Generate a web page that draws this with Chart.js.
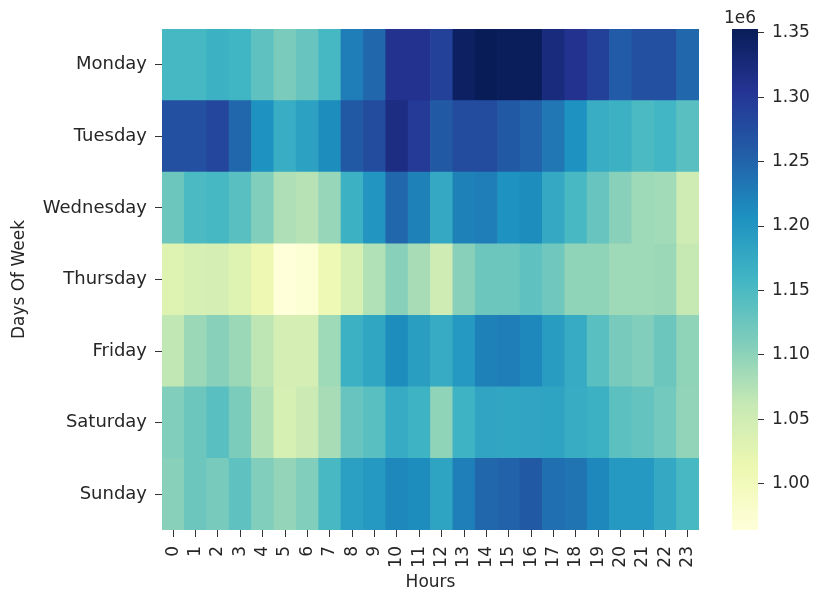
<!DOCTYPE html>
<html>
<head>
<meta charset="utf-8">
<script src="https://cdn.jsdelivr.net/npm/chart.js@4"></script>
<style>
  body { margin: 0; background: #fff; }
  #wrap { position: relative; width: 814px; height: 595px; }
  #heat { position: absolute; left: 0; top: 0; }
  #bar { position: absolute; left: 720px; top: 0; }
</style>
</head>
<body>
<div id="wrap">
  <canvas id="heat" width="720" height="595"></canvas>
  <canvas id="bar" width="94" height="595"></canvas>
</div>
<script>
const hours = ["0","1","2","3","4","5","6","7","8","9","10","11","12","13","14","15","16","17","18","19","20","21","22","23"];
const days = ["Monday","Tuesday","Wednesday","Thursday","Friday","Saturday","Sunday"];

const monday    = [1.155e6,1.155e6,1.165e6,1.160e6,1.135e6,1.114e6,1.129e6,1.155e6,1.226e6,1.247e6,1.309e6,1.309e6,1.289e6,1.345e6,1.353e6,1.350e6,1.350e6,1.324e6,1.309e6,1.289e6,1.259e6,1.272e6,1.272e6,1.247e6];
const tuesday   = [1.272e6,1.272e6,1.282e6,1.247e6,1.206e6,1.170e6,1.186e6,1.211e6,1.262e6,1.277e6,1.319e6,1.299e6,1.262e6,1.277e6,1.277e6,1.262e6,1.252e6,1.232e6,1.206e6,1.170e6,1.165e6,1.150e6,1.158e6,1.140e6];
const wednesday = [1.124e6,1.150e6,1.155e6,1.140e6,1.109e6,1.078e6,1.073e6,1.094e6,1.165e6,1.201e6,1.247e6,1.221e6,1.175e6,1.221e6,1.226e6,1.206e6,1.211e6,1.175e6,1.153e6,1.129e6,1.104e6,1.088e6,1.086e6,1.052e6];
const thursday  = [1.032e6,1.042e6,1.044e6,1.032e6,1.011e6,0.964e6,0.971e6,1.006e6,1.042e6,1.076e6,1.104e6,1.083e6,1.052e6,1.104e6,1.124e6,1.124e6,1.135e6,1.122e6,1.099e6,1.099e6,1.088e6,1.088e6,1.091e6,1.062e6];
const friday    = [1.065e6,1.091e6,1.104e6,1.091e6,1.067e6,1.044e6,1.044e6,1.088e6,1.165e6,1.180e6,1.211e6,1.190e6,1.173e6,1.196e6,1.221e6,1.226e6,1.216e6,1.192e6,1.173e6,1.140e6,1.116e6,1.109e6,1.124e6,1.099e6];
const saturday  = [1.109e6,1.124e6,1.140e6,1.112e6,1.075e6,1.042e6,1.055e6,1.083e6,1.129e6,1.140e6,1.173e6,1.163e6,1.099e6,1.163e6,1.182e6,1.180e6,1.182e6,1.183e6,1.172e6,1.165e6,1.137e6,1.131e6,1.119e6,1.097e6];
const sunday    = [1.104e6,1.124e6,1.116e6,1.135e6,1.109e6,1.096e6,1.109e6,1.153e6,1.188e6,1.196e6,1.216e6,1.211e6,1.183e6,1.224e6,1.247e6,1.252e6,1.262e6,1.240e6,1.235e6,1.216e6,1.196e6,1.196e6,1.175e6,1.153e6];

const cbTicks = [1.00e6,1.05e6,1.10e6,1.15e6,1.20e6,1.25e6,1.30e6,1.35e6];

const rows = [monday, tuesday, wednesday, thursday, friday, saturday, sunday];

// YlGnBu
const cmap = ["#ffffd9","#edf8b1","#c7e9b4","#7fcdbb","#41b6c4","#1d91c0","#225ea8","#253494","#081d58"];
const all = rows.flat();
const vmin = Math.min(...all);
const vmax = Math.max(...all);

function hex(h) {
  return [parseInt(h.slice(1,3),16), parseInt(h.slice(3,5),16), parseInt(h.slice(5,7),16)];
}
function colorFor(v) {
  let t = (v - vmin) / (vmax - vmin);
  t = Math.max(0, Math.min(1, t)) * (cmap.length - 1);
  const i = Math.min(Math.floor(t), cmap.length - 2);
  const f = t - i;
  const a = hex(cmap[i]), b = hex(cmap[i + 1]);
  const c = a.map((x, k) => Math.round(x + (b[k] - x) * f));
  return `rgb(${c[0]},${c[1]},${c[2]})`;
}

Chart.defaults.font.family = "DejaVu Sans";
Chart.defaults.font.size = 17;
Chart.defaults.color = "#262626";

// bottom row first so Monday ends on top
const datasets = rows.slice().reverse().map((vals, i) => ({
  label: days[6 - i],
  data: hours.map(() => 1),
  values: vals,
  backgroundColor: vals.map(colorFor),
  borderWidth: 0,
  categoryPercentage: 1,
  barPercentage: 1,
}));

new Chart(document.getElementById("heat"), {
  type: "bar",
  data: { labels: hours, datasets: datasets },
  options: {
    responsive: false,
    animation: false,
    layout: { padding: { top: 29, right: 21, left: 0, bottom: 0 } },
    plugins: {
      legend: { display: false },
      tooltip: {
        callbacks: {
          label: (ctx) => ctx.dataset.label + ": " + ctx.dataset.values[ctx.dataIndex],
        },
      },
    },
    scales: {
      x: {
        stacked: true,
        border: { display: false },
        grid: { offset: false, drawOnChartArea: false, tickLength: 7, color: "#333" },
        ticks: { minRotation: 90, maxRotation: 90, padding: 9, autoSkip: false },
        title: { display: true, text: "Hours", padding: { top: 0, bottom: 2 } },
        afterFit: (scale) => { scale.height = 65; },
      },
      y: {
        stacked: true,
        min: 0,
        max: 7,
        border: { display: false },
        grid: { drawOnChartArea: false, tickLength: 7, color: "#333" },
        afterBuildTicks: (scale) => {
          scale.ticks = days.map((d, i) => ({ value: 6.5 - i }));
        },
        ticks: {
          padding: 8,
          font: { size: 18 },
          callback: (value) => days[6 - Math.floor(value)],
        },
        title: { display: true, text: "Days Of Week", padding: { top: 9, bottom: 4 } },
        afterFit: (scale) => { scale.width = 162; },
      },
    },
  },
});

const offsetLabel = {
  id: "offsetLabel",
  afterDraw(chart) {
    const { ctx, chartArea } = chart;
    ctx.save();
    ctx.font = "17px DejaVu Sans";
    ctx.fillStyle = "#262626";
    ctx.textAlign = "center";
    ctx.textBaseline = "bottom";
    ctx.fillText("1e6", chartArea.left + 8, chartArea.top - 2);
    ctx.restore();
  },
};

new Chart(document.getElementById("bar"), {
  type: "bar",
  data: {
    labels: [""],
    datasets: [{
      data: [[vmin, vmax]],
      borderWidth: 0,
      categoryPercentage: 1,
      barPercentage: 1,
      backgroundColor: (ctx) => {
        const area = ctx.chart.chartArea;
        if (!area) return cmap[4];
        const g = ctx.chart.ctx.createLinearGradient(0, area.bottom, 0, area.top);
        cmap.forEach((c, i) => g.addColorStop(i / (cmap.length - 1), c));
        return g;
      },
    }],
  },
  options: {
    responsive: false,
    animation: false,
    layout: { padding: { top: 29, right: 0, left: 12, bottom: 65 } },
    plugins: { legend: { display: false }, tooltip: { enabled: false } },
    scales: {
      x: { display: false },
      y: {
        position: "right",
        min: vmin,
        max: vmax,
        border: { display: false },
        grid: { drawOnChartArea: false, tickLength: 6, color: "#333" },
        afterBuildTicks: (scale) => {
          scale.ticks = cbTicks.map((v) => ({ value: v }));
        },
        ticks: {
          padding: 8,
          callback: (value) => (value / 1e6).toFixed(2),
        },
        afterFit: (scale) => { scale.width = 56; },
      },
    },
  },
  plugins: [offsetLabel],
});
</script>
</body>
</html>
